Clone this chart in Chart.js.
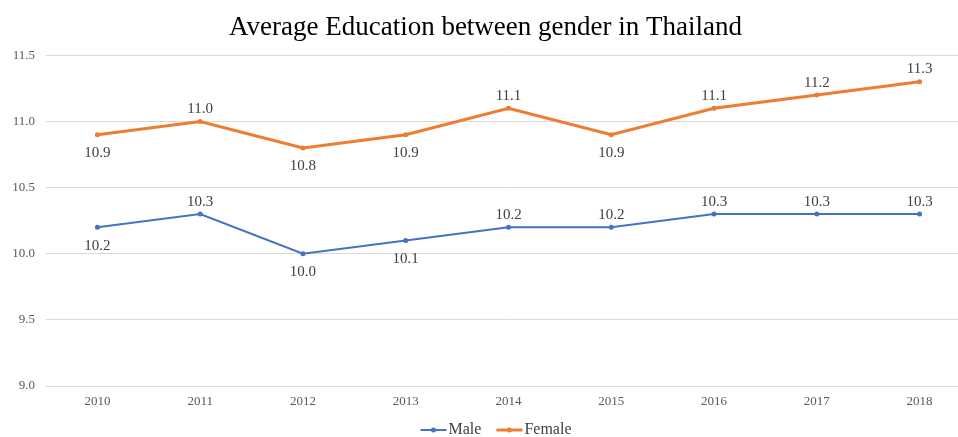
<!DOCTYPE html>
<html><head><meta charset="utf-8">
<script src="https://cdn.jsdelivr.net/npm/chart.js@4/dist/chart.umd.min.js"></script>
<style>html,body{margin:0;padding:0;background:#fff;overflow:hidden;width:958px;height:437px}canvas{display:block}</style>
</head><body>
<canvas id="c" width="988" height="437"></canvas>
<script>
const years = ['2010','2011','2012','2013','2014','2015','2016','2017','2018'];
const male = [10.2, 10.3, 10.0, 10.1, 10.2, 10.2, 10.3, 10.3, 10.3];
const female = [10.9, 11.0, 10.8, 10.9, 11.1, 10.9, 11.1, 11.2, 11.3];
const malePos = ['below','above','below','below','above','above','above','above','above'];
const femalePos = ['below','above','below','below','above','below','above','above','above'];
const yTicks = [9.0, 9.5, 10.0, 10.5, 11.0, 11.5];

const SERIF = '"Liberation Serif", "Times New Roman", serif';
const BLUE = '#4472C4', ORANGE = '#ED7D31';

const labelPlugin = {
  id: 'vlabels',
  afterDatasetsDraw(chart) {
    const ctx = chart.ctx;
    const positions = [malePos, femalePos];
    ctx.save();
    ctx.font = '15px ' + SERIF;
    ctx.fillStyle = '#404040';
    ctx.textAlign = 'center';
    chart.data.datasets.forEach((ds, i) => {
      const meta = chart.getDatasetMeta(i);
      meta.data.forEach((pt, j) => {
        const v = ds.data[j];
        if (positions[i][j] === 'above') {
          ctx.textBaseline = 'bottom';
          ctx.fillText(v.toFixed(1), pt.x, pt.y - 5);
        } else {
          ctx.textBaseline = 'top';
          ctx.fillText(v.toFixed(1), pt.x, pt.y + 11);
        }
      });
    });
    ctx.restore();
  }
};

const legendPlugin = {
  id: 'customLegend',
  afterDraw(chart) {
    const ctx = chart.ctx;
    const ds = chart.data.datasets;
    ctx.save();
    ctx.font = '16px ' + SERIF;
    const iconW = 26, gapIcon = 2, gapItem = 15;
    const widths = ds.map(d => iconW + gapIcon + ctx.measureText(d.label).width);
    const total = widths.reduce((a, b) => a + b, 0) + gapItem * (ds.length - 1);
    let x = 496 - total / 2;
    const y = 430;
    ds.forEach((d, i) => {
      ctx.strokeStyle = d.borderColor; ctx.lineWidth = d.borderWidth;
      ctx.beginPath(); ctx.moveTo(x, y); ctx.lineTo(x + iconW, y); ctx.stroke();
      ctx.fillStyle = d.borderColor;
      ctx.beginPath(); ctx.arc(x + iconW / 2, y, 2.5, 0, Math.PI * 2); ctx.fill();
      ctx.fillStyle = '#404040'; ctx.textBaseline = 'middle'; ctx.textAlign = 'left';
      ctx.fillText(d.label, x + iconW + gapIcon, y);
      x += widths[i] + gapItem;
    });
    ctx.restore();
  }
};

new Chart(document.getElementById('c'), {
  type: 'line',
  data: {
    labels: years,
    datasets: [
      { label: 'Male', data: male, borderColor: BLUE, backgroundColor: BLUE, borderWidth: 2,
        pointRadius: 2.5, pointBackgroundColor: BLUE, pointBorderWidth: 0, tension: 0 },
      { label: 'Female', data: female, borderColor: ORANGE, backgroundColor: ORANGE, borderWidth: 3,
        pointRadius: 2.5, pointBackgroundColor: ORANGE, pointBorderWidth: 0, tension: 0 }
    ]
  },
  options: {
    responsive: false,
    animation: false,
    layout: { padding: { left: 0, right: 17, top: 4, bottom: 0 } },
    plugins: {
      title: { display: true, text: 'Average Education between gender in Thailand',
        font: { family: SERIF, size: 27, weight: 'normal' }, color: '#000',
        padding: { top: 8, bottom: 11 } },
      legend: { display: false },
      tooltip: { enabled: false }
    },
    scales: {
      x: { offset: true, grid: { display: false, drawTicks: false }, border: { display: false },
        afterFit(s) { s.height = 51; },
        ticks: { font: { family: SERIF, size: 13 }, color: '#595959', padding: 8 } },
      y: { min: 9.0, max: 11.5,
        afterFit(s) { s.width = 46; },
        afterBuildTicks(s) { s.ticks = yTicks.map(v => ({ value: v })); },
        grid: { color: '#d9d9d9', lineWidth: 1, drawTicks: false },
        border: { display: false },
        ticks: { font: { family: SERIF, size: 13 }, color: '#595959', padding: 11,
          callback: v => Number(v).toFixed(1) } }
    }
  },
  plugins: [labelPlugin, legendPlugin]
});
</script>
</body></html>
